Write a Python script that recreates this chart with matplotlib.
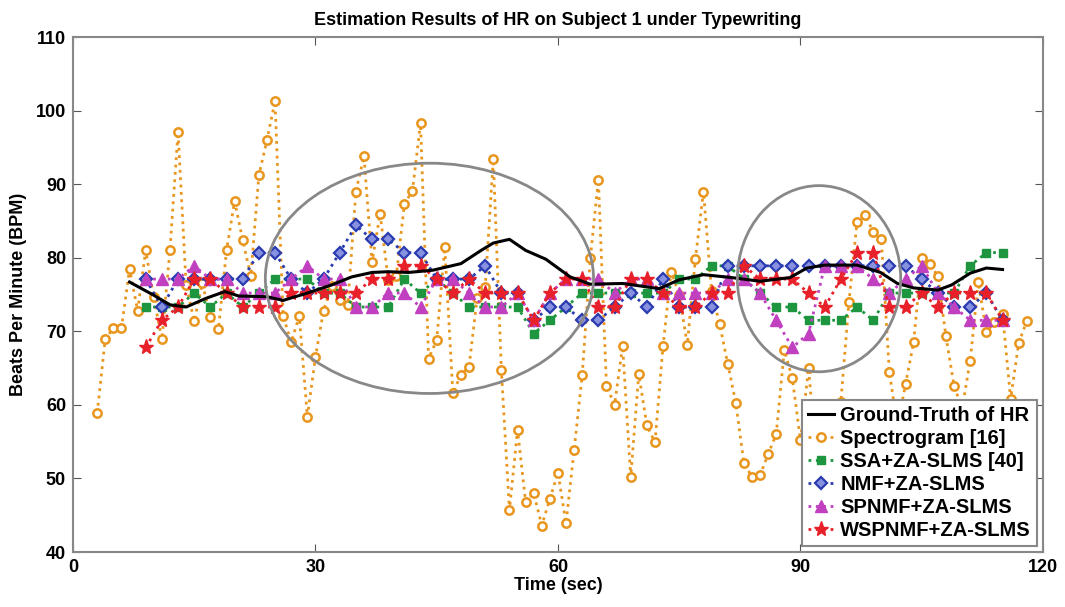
import numpy as np
import matplotlib
matplotlib.use("Agg")
import matplotlib.pyplot as plt
from matplotlib.patches import Ellipse

plt.rcParams['font.family'] = ['Liberation Sans', 'DejaVu Sans']

# ---------------- data ----------------
title = "Estimation Results of HR on Subject 1 under Typewriting"
xlabel = "Time (sec)"
ylabel = "Beats Per Minute (BPM)"
xticks = [0, 30, 60, 90, 120]
yticks = [40, 50, 60, 70, 80, 90, 100, 110]

gt_t = [7, 8.5, 10, 12, 14, 16.5, 18.8, 20.5, 24, 26, 29, 32, 34.5, 37, 39, 41.5,
        44.5, 48, 50.5, 52, 54, 56, 58.5, 61.5, 64, 68, 72.5, 75, 78, 81.5, 85,
        88.7, 90.8, 93, 97, 99.9, 102, 104, 107, 108.7, 111, 113, 115]
gt_v = [76.7, 75.8, 74.9, 73.6, 73.3, 74.5, 75.4, 74.8, 74.7, 74.2, 75.2, 76.3,
        77.4, 78.0, 78.1, 78.0, 78.3, 79.2, 81.0, 82.0, 82.5, 81.0, 79.8, 77.4,
        76.4, 76.5, 75.8, 77.0, 77.7, 77.3, 76.8, 77.3, 78.6, 79.0, 79.0, 78.0,
        76.5, 75.9, 75.6, 76.3, 77.9, 78.6, 78.4]

spec_t = list(range(3, 119))
spec_v = [58.9, 69.0, 70.4, 70.4, 78.5, 72.8, 81.0, 74.6, 68.9, 81.0,   # 3-12
          97.1, 76.3, 71.4, 76.5, 72.0, 70.3, 81.0, 87.7, 82.4, 77.5,   # 13-22
          91.2, 96.0, 101.3, 72.1, 68.5, 72.1, 58.4, 66.5, 72.8, 76.1,  # 23-32
          74.3, 73.6, 89.0, 93.8, 79.4, 86.0, 77.0, 77.5, 87.3, 89.1,   # 33-42
          98.3, 66.3, 68.8, 81.4, 61.6, 64.1, 65.2, 74.5, 76.0, 93.4,   # 43-52
          64.7, 45.7, 56.6, 46.8, 48.0, 43.6, 47.2, 50.8, 43.9, 53.9,   # 53-62
          64.0, 79.9, 90.6, 62.6, 60.0, 68.0, 50.2, 64.2, 57.2, 54.9,   # 63-72
          68.0, 78.1, 75.0, 68.2, 79.8, 89.0, 75.5, 71.0, 65.6, 60.3,   # 73-82
          52.1, 50.2, 50.4, 53.3, 56.0, 67.4, 63.6, 55.2, 65.0, 52.0,   # 83-92
          48.0, 53.0, 60.4, 74.0, 84.9, 85.8, 83.5, 82.5, 64.5, 57.0,   # 93-102
          62.8, 68.5, 80.0, 79.1, 77.5, 69.3, 62.6, 59.5, 66.0, 76.7,   # 103-112
          69.9, 71.2, 72.4, 60.8, 68.4, 71.4]                           # 113-118

est_t = list(range(9, 117, 2))
ssa_v = [73.3, 73.3, 73.3, 75.2, 73.3, 75.2, 73.3, 75.2, 77.1, 77.1,
         77.1, 75.2, 75.2, 73.3, 73.3, 73.3, 77.1, 75.2, 77.1, 75.2,
         73.3, 73.3, 73.3, 73.3, 69.7, 71.5, 73.3, 75.2, 75.2, 75.2,
         75.2, 75.2, 75.2, 77.1, 77.1, 78.9, 78.9, 77.1, 75.2, 73.3,
         73.3, 71.5, 71.5, 71.5, 73.3, 71.5, 75.2, 75.2, 75.2, 75.2,
         75.2, 78.9, 80.7, 80.7]
nmf_v = [77.1, 73.3, 77.1, 77.1, 77.1, 77.1, 77.1, 80.7, 80.7, 77.1,
         75.2, 77.1, 80.7, 84.4, 82.5, 82.5, 80.7, 80.7, 77.1, 77.1,
         77.1, 78.9, 75.2, 75.2, 71.5, 73.3, 73.3, 71.5, 71.5, 73.3,
         75.2, 73.3, 77.1, 73.3, 73.3, 73.3, 78.9, 78.9, 78.9, 78.9,
         78.9, 78.9, 78.9, 78.9, 78.9, 78.9, 78.9, 78.9, 77.1, 75.2,
         73.3, 73.3, 75.2, 71.5]
spnmf_v = [77.1, 77.1, 77.1, 78.9, 77.1, 77.1, 75.2, 75.2, 75.2, 77.1,
           78.9, 77.1, 77.1, 73.3, 73.3, 75.2, 75.2, 73.3, 77.1, 77.1,
           75.2, 73.3, 73.3, 75.2, 71.5, 75.2, 77.1, 77.1, 77.1, 75.2,
           77.1, 77.1, 75.2, 75.2, 75.2, 75.2, 77.1, 77.1, 75.2, 71.5,
           67.8, 69.7, 78.9, 78.9, 78.9, 77.1, 75.2, 77.1, 78.9, 75.2,
           73.3, 71.5, 71.5, 71.5]
wspnmf_v = [67.8, 71.5, 73.3, 77.1, 77.1, 75.2, 73.3, 73.3, 73.3, 75.2,
            75.2, 75.2, 75.2, 75.2, 77.1, 77.1, 78.9, 78.9, 77.1, 75.2,
            77.1, 75.2, 75.2, 75.2, 71.5, 75.2, 77.1, 77.1, 73.3, 73.3,
            77.1, 77.1, 75.2, 73.3, 73.3, 75.2, 75.2, 78.9, 77.1, 77.1,
            77.1, 75.2, 73.3, 77.1, 80.7, 80.7, 73.3, 73.3, 75.2, 73.3,
            75.2, 75.2, 75.2, 71.5]

labels = ["Ground-Truth of HR", "Spectrogram [16]", "SSA+ZA-SLMS [40]",
          "NMF+ZA-SLMS", "SPNMF+ZA-SLMS", "WSPNMF+ZA-SLMS"]

# ellipses (center t, center bpm, width sec, height bpm)
ell1 = (44.1, 77.2, 40.6, 31.3)
ell2 = (92.3, 77.15, 20.2, 25.3)

# ---------------- plot ----------------
c_or = '#E8961E'
c_gr = '#1E9640'
c_bl = '#2A3BB0'
c_mg = '#C040C0'
c_rd = '#E8202A'

fig = plt.figure(figsize=(10.65, 6.07), dpi=100)
ax = fig.add_axes([0.0685, 0.0906, 0.9108, 0.8484])

ax.plot(spec_t, spec_v, linestyle=':', color=c_or, lw=2.0, marker='o', ms=6,
        mfc='white', mec=c_or, mew=1.8, label=labels[1], zorder=2)
ax.plot(est_t, ssa_v, linestyle=':', color=c_gr, lw=2.0, marker='s', ms=6,
        mfc=c_gr, mec=c_gr, label=labels[2], zorder=3)
ax.plot(est_t, nmf_v, linestyle=':', color=c_bl, lw=2.0, marker='D', ms=6,
        mfc='#8890e0', mec=c_bl, mew=1.6, label=labels[3], zorder=3)
ax.plot(est_t, spnmf_v, linestyle=':', color=c_mg, lw=2.0, marker='^', ms=8,
        mfc=c_mg, mec=c_mg, label=labels[4], zorder=3)
ax.plot(est_t, wspnmf_v, linestyle=':', color=c_rd, lw=2.0, marker='*', ms=11,
        mfc=c_rd, mec=c_rd, label=labels[5], zorder=3)
ax.plot(gt_t, gt_v, color='black', lw=2.2, label=labels[0], zorder=4)

for (cx, cy, w, h) in (ell1, ell2):
    ax.add_patch(Ellipse((cx, cy), w, h, fill=False, edgecolor='#888888',
                         lw=2.0, zorder=5))

ax.set_xlim(0, 120)
ax.set_ylim(40, 110)
ax.set_xticks(xticks)
ax.set_yticks(yticks)
ax.tick_params(direction='in', length=6, top=True, right=True,
               labelsize=13, color='#555555', pad=5)
for lab in ax.get_xticklabels() + ax.get_yticklabels():
    lab.set_fontweight('bold')
for sp in ax.spines.values():
    sp.set_color('#888888')
    sp.set_linewidth(1.5)

ax.set_title(title, fontsize=13, fontweight='bold', pad=9)
ax.set_xlabel(xlabel, fontsize=13, fontweight='bold', labelpad=1)
ax.set_ylabel(ylabel, fontsize=13, fontweight='bold', labelpad=6)

handles, labs = ax.get_legend_handles_labels()
order = [5, 0, 1, 2, 3, 4]
leg = ax.legend([handles[i] for i in order], [labs[i] for i in order],
                loc='lower right', prop={'weight': 'bold', 'size': 14.5},
                handlelength=1.3, handletextpad=0.3, borderpad=0.3,
                labelspacing=0.2, borderaxespad=0.3, fancybox=False,
                framealpha=1.0, edgecolor='#888888')
leg.set_zorder(10)
leg.get_frame().set_linewidth(1.5)

fig.savefig("out.png", dpi=100)
